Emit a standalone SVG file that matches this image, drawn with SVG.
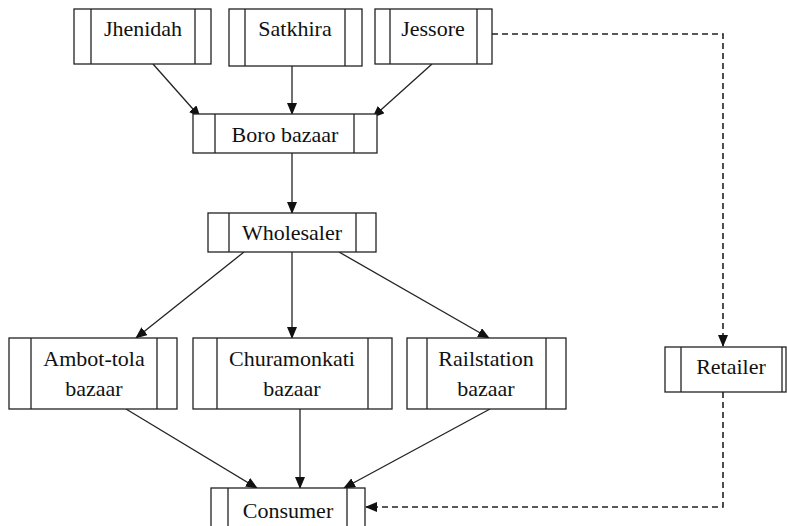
<svg xmlns="http://www.w3.org/2000/svg" width="787" height="526" viewBox="0 0 787 526">
<style>
.box{fill:#fff;stroke:#222;stroke-width:1.3}
.in{stroke:#222;stroke-width:1.3;fill:none}
text{font-family:'Liberation Serif','DejaVu Serif',serif;font-size:22px;fill:#111;text-anchor:middle}
.c{stroke:#222;stroke-width:1.3;fill:none;marker-end:url(#ah)}
.d{stroke:#222;stroke-width:1.6;fill:none;stroke-dasharray:6 4;marker-end:url(#ah)}
</style>
<defs>
<marker id="ah" markerUnits="userSpaceOnUse" markerWidth="12" markerHeight="10" refX="11" refY="5" orient="auto" viewBox="0 0 12 10">
<path d="M0,0 L12,5 L0,10 Z" fill="#111"/>
</marker>
</defs>
<rect width="787" height="526" fill="#fff"/>
<g id="connectors">
<line class="c" x1="153" y1="64" x2="200" y2="117"/>
<line class="c" x1="292" y1="66" x2="292" y2="114"/>
<line class="c" x1="432" y1="64" x2="373" y2="117"/>
<line class="c" x1="292" y1="153" x2="292" y2="213"/>
<line class="c" x1="244" y1="252" x2="136" y2="338"/>
<line class="c" x1="292" y1="252" x2="292" y2="338"/>
<line class="c" x1="339" y1="252" x2="489" y2="338"/>
<line class="c" x1="126" y1="409" x2="257" y2="488"/>
<line class="c" x1="300" y1="409" x2="300" y2="488"/>
<line class="c" x1="490" y1="409" x2="344" y2="488"/>
<path class="d" d="M492,34 H723 V346"/>
<path class="d" d="M723,392 V507 H366"/>
</g>
<g id="jhenidah">
<rect class="box" x="74" y="9" width="137" height="55"/>
<path class="in" d="M91,9 V64 M195,9 V64"/>
<text x="143" y="36" font-family="Liberation Serif, serif">Jhenidah</text>
</g>
<g id="satkhira">
<rect class="box" x="229" y="9" width="133" height="57"/>
<path class="in" d="M245,9 V66 M345,9 V66"/>
<text x="295" y="36">Satkhira</text>
</g>
<g id="jessore">
<rect class="box" x="375" y="9" width="117" height="55"/>
<path class="in" d="M390,9 V64 M477,9 V64"/>
<text x="433" y="36">Jessore</text>
</g>
<g id="boro">
<rect class="box" x="193" y="114" width="184" height="39"/>
<path class="in" d="M215,114 V153 M354,114 V153"/>
<text x="285" y="142">Boro bazaar</text>
</g>
<g id="wholesaler">
<rect class="box" x="208" y="213" width="168" height="39"/>
<path class="in" d="M229,213 V252 M356,213 V252"/>
<text x="292" y="240">Wholesaler</text>
</g>
<g id="ambot">
<rect class="box" x="9" y="338" width="168" height="71"/>
<path class="in" d="M31,338 V409 M157,338 V409"/>
<text x="94" y="366">Ambot-tola</text>
<text x="94" y="396">bazaar</text>
</g>
<g id="churamonkati">
<rect class="box" x="193" y="338" width="199" height="71"/>
<path class="in" d="M217,338 V409 M368,338 V409"/>
<text x="292" y="366">Churamonkati</text>
<text x="292" y="396">bazaar</text>
</g>
<g id="railstation">
<rect class="box" x="407" y="338" width="159" height="71"/>
<path class="in" d="M427,338 V409 M546,338 V409"/>
<text x="486" y="366">Railstation</text>
<text x="486" y="396">bazaar</text>
</g>
<g id="retailer">
<rect class="box" x="665" y="347" width="121" height="45"/>
<path class="in" d="M681,347 V392 M782,347 V392"/>
<text x="731" y="374">Retailer</text>
</g>
<g id="consumer">
<rect class="box" x="211" y="488" width="154" height="45"/>
<path class="in" d="M228,488 V533 M347,488 V533"/>
<text x="288" y="518">Consumer</text>
</g>
</svg>
